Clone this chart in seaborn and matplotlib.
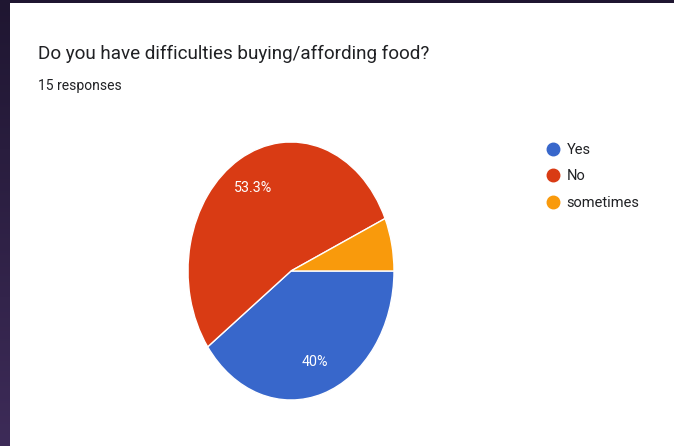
import numpy as np
import matplotlib
matplotlib.use("Agg")
import matplotlib.pyplot as plt
from matplotlib.lines import Line2D
from matplotlib.colors import LinearSegmentedColormap
import seaborn as sns

# ---- data ----
categories = ["Yes", "No", "sometimes"]
counts = [6, 8, 1]
title = "Do you have difficulties buying/affording food?"
subtitle = "15 responses"
colors = ["#3867cb", "#d93b14", "#f99a0c"]

sns.set_theme(style="white")
plt.rcParams['font.family'] = ['Roboto', 'DejaVu Sans']

W, H = 674, 446
fig = plt.figure(figsize=(W / 100, H / 100), dpi=100)

# background: dark purple frame with gradient
bg = fig.add_axes([0, 0, 1, 1])
grad = np.linspace(0, 1, 256).reshape(-1, 1)
cmap = LinearSegmentedColormap.from_list("bg", ["#1f1631", "#3d2b58"])
bg.imshow(grad, aspect="auto", cmap=cmap, extent=[0, 1, 0, 1], origin="upper")
bg.set_axis_off()

# white card
card = fig.add_axes([10 / W, 0, 1 - 10 / W, 1 - 3 / H])
card.set_facecolor("white")
card.set_xticks([]); card.set_yticks([])
for s in card.spines.values():
    s.set_visible(False)

# pie axes (ellipse bounding box)
x0, x1, y0, y1 = 188, 394, 142, 400
ax = fig.add_axes([x0 / W, 1 - y1 / H, (x1 - x0) / W, (y1 - y0) / H])

def fmt(p):
    if p < 8:
        return ""
    s = f"{p:.1f}"
    if s.endswith(".0"):
        s = s[:-2]
    return s + "%"

wedges, texts, autotexts = ax.pie(
    counts, colors=colors, startangle=0, counterclock=False,
    autopct=fmt, pctdistance=0.74,
    wedgeprops=dict(edgecolor="white", linewidth=1),
    textprops=dict(color="white", fontsize=10.3),
)
ax.set_aspect("auto")
ax.set_xlim(-1, 1)
ax.set_ylim(-1, 1)
ax.set_axis_off()

# title and subtitle
fig.text(38 / W, 1 - 54 / H, title, fontsize=13.6, color="#202124",
         ha="left", va="center")
fig.text(38 / W, 1 - 86 / H, subtitle, fontsize=10, color="#202124",
         ha="left", va="center")

# legend
handles = [Line2D([0], [0], marker="o", linestyle="", markersize=9,
                  markerfacecolor=c, markeredgecolor=c) for c in colors]
fig.legend(handles, categories, loc="upper left",
           bbox_to_anchor=(544 / W, 1 - 143 / H), frameon=False,
           fontsize=10.5, handletextpad=0.35, labelspacing=0.85,
           handlelength=1.2, borderaxespad=0, borderpad=0,
           labelcolor="#202124")

fig.savefig("out.png", dpi=100)
